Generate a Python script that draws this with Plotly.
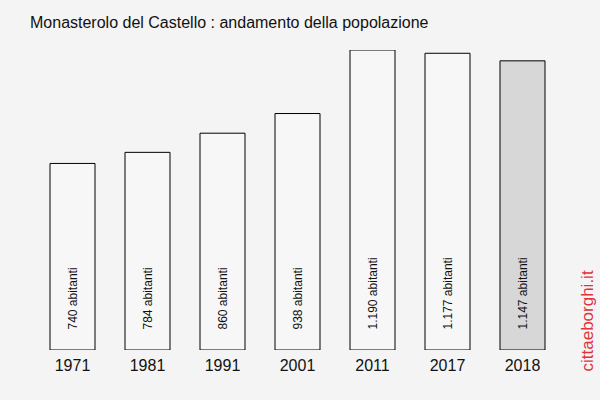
import plotly.graph_objects as go

years = ["1971", "1981", "1991", "2001", "2011", "2017", "2018"]
population = [740, 784, 860, 938, 1190, 1177, 1147]
labels = ["740 abitanti", "784 abitanti", "860 abitanti", "938 abitanti",
          "1.190 abitanti", "1.177 abitanti", "1.147 abitanti"]
fill_colors = ["#f7f7f7"] * 6 + ["#d7d7d7"]

FONT = "Liberation Sans, Arial, sans-serif"

fig = go.Figure()
fig.add_trace(go.Bar(
    x=years, y=population,
    marker=dict(color=fill_colors, line=dict(color="#000000", width=1)),
    hoverinfo="skip",
))

for i, lab in enumerate(labels):
    fig.add_annotation(
        x=i, y=0, text=lab, textangle=-90, showarrow=False,
        xanchor="center", yanchor="bottom", yshift=18,
        font=dict(family=FONT, size=12, color="#111111"),
    )

fig.add_annotation(
    xref="paper", yref="paper", x=552/525, y=0.0, yshift=-24,
    text="cittaeborghi.it", textangle=-90, showarrow=False,
    xanchor="center", yanchor="bottom",
    font=dict(family=FONT, size=17, color="#e0323c"),
)

fig.update_layout(
    width=600, height=400,
    margin=dict(l=35, r=40, t=50, b=50),
    paper_bgcolor="#f4f4f4", plot_bgcolor="#f4f4f4",
    bargap=0.4,
    showlegend=False,
    title=dict(text="Monasterolo del Castello : andamento della popolazione",
               x=30/600, xanchor="left", y=1 - 22/400, yanchor="middle",
               font=dict(family=FONT, size=16, color="#111111")),
    xaxis=dict(type="category", range=[-0.5, len(years) - 0.5],
               showgrid=False, zeroline=False, showline=False, ticks="",
               ticklabelstandoff=4,
               tickfont=dict(family=FONT, size=16, color="#111111")),
    yaxis=dict(range=[0, 1190], visible=False, showgrid=False, zeroline=False),
)

fig.write_html("out.html")
